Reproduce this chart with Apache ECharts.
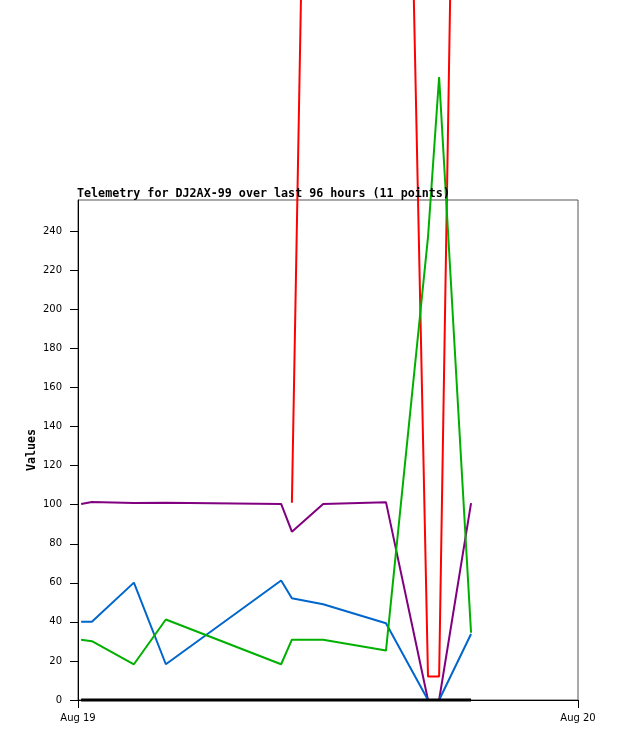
<!DOCTYPE html>
<html>
<head>
<meta charset="utf-8">
<script src="https://cdn.jsdelivr.net/npm/echarts@6/dist/echarts.min.js"></script>
<style>
  html, body { margin: 0; padding: 0; background: #fff; }
  #chart { width: 618px; height: 741px; }
</style>
</head>
<body>
<div id="chart"></div>
<script>
// sample times (11 points)
var times = ['2024-08-19 00:09', '2024-08-19 00:40', '2024-08-19 02:41', '2024-08-19 04:13',
  '2024-08-19 09:45', '2024-08-19 10:16', '2024-08-19 11:46', '2024-08-19 14:47',
  '2024-08-19 16:48', '2024-08-19 17:20', '2024-08-19 18:52'];

var redVals    = [null, null, null, null, null, 101, 990, 1040, 12, 12, 1018];
var purpleVals = [100.4, 101.4, 100.9, 101, 100.4, 86.2, 100.4, 101.3, 0, 0, 100.8];
var blueVals   = [40.1, 40.1, 60.1, 18.3, 61.2, 52.1, 49, 39.3, 0, 0, 33.8];
var greenVals  = [30.9, 30.1, 18.3, 41.2, 18.3, 30.9, 30.9, 25.3, 237, 319, 34.4];
var blackVals  = [0, 0, 0, 0, 0, 0, 0, 0, 0, 0, 0];

var yTicks = [0, 20, 40, 60, 80, 100, 120, 140, 160, 180, 200, 220, 240];
var xTickTimes = ['2024-08-19 00:00', '2024-08-20 00:00'];
var xTickLabels = ['Aug 19', 'Aug 20'];

function toMs(s) {
  return echarts.time.parse(s).getTime();
}
function pairs(vals) {
  return vals.map(function (v, i) { return [toMs(times[i]), v]; });
}

var xTickMs = xTickTimes.map(toMs);
var chart = echarts.init(document.getElementById('chart'));

var lineSeries = function (name, vals, color, width) {
  return {
    name: name,
    type: 'line',
    data: pairs(vals),
    showSymbol: false,
    clip: false,
    animation: false,
    lineStyle: { color: color, width: width },
    itemStyle: { color: color }
  };
};

chart.setOption({
  backgroundColor: '#fff',
  animation: false,
  title: {
    text: 'Telemetry for DJ2AX-99 over last 96 hours (11 points)',
    left: 72,
    top: 183,
    textStyle: { fontFamily: 'DejaVu Sans Mono', fontWeight: 'bold', fontSize: 11.7, color: '#000' }
  },
  grid: {
    left: 78, top: 200, width: 500, height: 500,
    show: true, borderColor: '#555', borderWidth: 1, backgroundColor: 'transparent'
  },
  xAxis: {
    type: 'value',
    min: xTickMs[0],
    max: xTickMs[1],
    interval: xTickMs[1] - xTickMs[0],
    splitLine: { show: false },
    axisLine: { lineStyle: { color: '#000', width: 1 } },
    axisTick: { show: true, length: 8, lineStyle: { color: '#000' } },
    axisLabel: {
      margin: 13,
      fontFamily: 'DejaVu Sans', fontSize: 10, color: '#000',
      formatter: function (v) {
        var i = xTickMs.indexOf(v);
        return i >= 0 ? xTickLabels[i] : '';
      }
    }
  },
  yAxis: {
    type: 'value',
    min: 0,
    max: 256,
    name: 'Values',
    nameLocation: 'middle',
    nameRotate: 90,
    nameGap: 40,
    nameMoveOverlap: false,
    nameTextStyle: { fontFamily: 'DejaVu Sans Mono', fontWeight: 'bold', fontSize: 11.7, color: '#000' },
    splitLine: { show: false },
    axisLine: { show: true, lineStyle: { color: '#000', width: 1 } },
    axisTick: { show: true, length: 8, lineStyle: { color: '#000' }, customValues: yTicks },
    axisLabel: { customValues: yTicks, margin: 16, fontFamily: 'DejaVu Sans', fontSize: 10, color: '#000' }
  },
  series: [
    lineSeries('red', redVals, '#ff0000', 2),
    lineSeries('purple', purpleVals, '#800080', 2),
    lineSeries('blue', blueVals, '#0066cc', 2),
    lineSeries('green', greenVals, '#00b000', 2),
    lineSeries('black', blackVals, '#000000', 3)
  ]
});
</script>
</body>
</html>
